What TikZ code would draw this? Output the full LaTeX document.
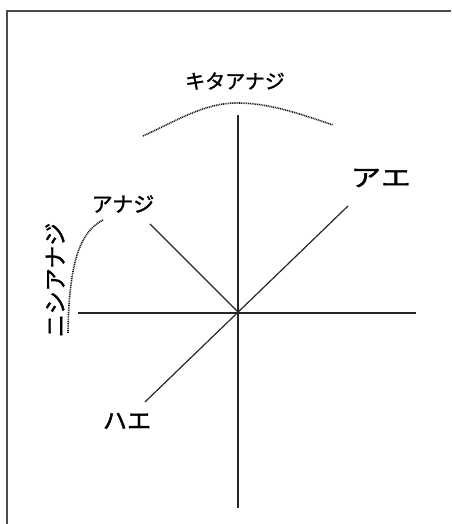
\documentclass[tikz,border=0pt]{standalone}
\usepackage{fontspec}
\newfontfamily\jp[FakeBold=1.5]{Noto Sans CJK JP}
\begin{document}
\begin{tikzpicture}[x=1pt,y=1pt,
  axis/.style={line width=1.2pt, draw=black!85},
  dotline/.style={line width=1.6pt, draw=black!90, dash pattern=on 1pt off 0.8pt},
  lbl/.style={inner sep=0pt, font=\jp\fontsize{20}{20}\selectfont},
  frameline/.style={line width=1.2pt, draw=black!70}]
\useasboundingbox (0,0) rectangle (451,524);
\draw[frameline] (7,0) -- (7,513) -- (451,513);
\coordinate (O) at (238,212);
\coordinate (N) at (238,409);
\coordinate (S) at (238,16);
\coordinate (W) at (78,211);
\coordinate (E) at (416,211);
\coordinate (NW) at (150,300);
\coordinate (NE) at (348,318);
\coordinate (SW) at (145,122);
\draw[axis] (N) -- (S);
\draw[axis] (W) -- (E);
\draw[axis] (NW) -- (O);
\draw[axis] (SW) -- (NE);
\coordinate (a1) at (143,388);
\coordinate (a2) at (237,421);
\coordinate (a3) at (333,399);
\draw[dotline] (a1) .. controls (180,405) and (205,421) .. (a2) .. controls (270,421) and (300,410) .. (a3);
\coordinate (b1) at (103,304);
\coordinate (b2) at (68,191);
\draw[dotline] (b1) .. controls (80,292) and (69,262) .. (b2);
\node[lbl] (kita) at (235,443) {キタアナジ};
\node[lbl, font=\jp\fontsize{21}{21}\selectfont] (anaji) at (123,320) {アナジ};
\node[lbl, font=\jp\fontsize{24}{24}\selectfont, xscale=1.25] (ae) at (381,346) {アエ};
\node[lbl, font=\jp\fontsize{23}{23}\selectfont, xscale=1.05] (hae) at (127,103) {ハエ};
\node[lbl, font=\jp\fontsize{23}{23}\selectfont, rotate=90] (nishi) at (55,244) {ニシアナジ};
\end{tikzpicture}
\end{document}
